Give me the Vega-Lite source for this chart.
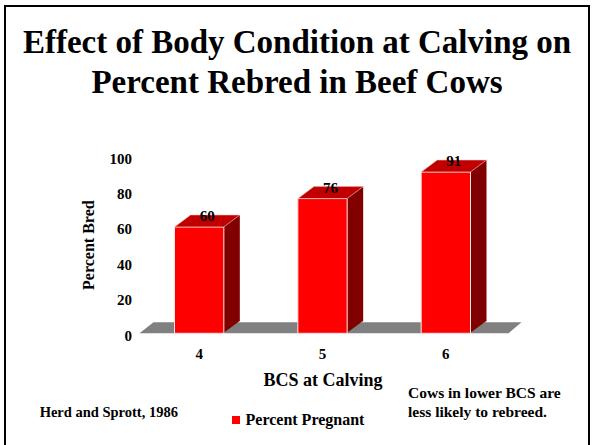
{
  "$schema": "https://vega.github.io/schema/vega-lite/v6.json",
  "width": 584,
  "height": 440,
  "padding": {"left": 5, "top": 6, "right": 4, "bottom": 0},
  "autosize": {"type": "none"},
  "background": "white",
  "config": {
    "view": {"stroke": "#000000", "strokeWidth": 2},
    "font": "Liberation Serif"
  },
  "title": {
    "text": ["Effect of Body Condition at Calving on", "Percent Rebred in Beef Cows"],
    "font": "Liberation Serif",
    "fontSize": 33,
    "fontWeight": "bold",
    "color": "#000000",
    "lineHeight": 40,
    "anchor": "middle",
    "baseline": "top",
    "offset": -94
  },
  "data": {
    "values": [
      {"BCS": "4", "pct": 60, "series": "Percent Pregnant"},
      {"BCS": "5", "pct": 76, "series": "Percent Pregnant"},
      {"BCS": "6", "pct": 91, "series": "Percent Pregnant"}
    ]
  },
  "encoding": {
    "x": {
      "field": "BCS",
      "type": "ordinal",
      "scale": {"range": [132.5, 502.5], "paddingInner": 0.6, "paddingOuter": 0.3},
      "axis": {
        "title": "BCS at Calving",
        "orient": "bottom",
        "offset": -112.7,
        "labelAngle": 0,
        "domain": false,
        "ticks": false,
        "tickSize": 0,
        "grid": false,
        "labelPadding": 13,
        "labelFont": "Liberation Serif",
        "labelFontSize": 15,
        "labelFontWeight": "bold",
        "labelColor": "#000000",
        "titleFont": "Liberation Serif",
        "titleFontSize": 18,
        "titleFontWeight": "bold",
        "titleColor": "#000000",
        "titlePadding": 10
      }
    },
    "y": {
      "field": "pct",
      "type": "quantitative",
      "scale": {"domain": [0, 100], "range": [327.3, 150], "nice": false, "zero": true},
      "axis": {
        "title": "Percent Bred",
        "orient": "left",
        "offset": -132.5,
        "values": [0, 20, 40, 60, 80, 100],
        "domain": false,
        "ticks": false,
        "tickSize": 0,
        "grid": false,
        "labelPadding": 6,
        "labelOffset": 2,
        "labelFont": "Liberation Serif",
        "labelFontSize": 15,
        "labelFontWeight": "bold",
        "labelColor": "#000000",
        "titleFont": "Liberation Serif",
        "titleFontSize": 16,
        "titleFontWeight": "bold",
        "titleColor": "#000000",
        "titlePadding": 13
      }
    }
  },
  "layer": [
    {
      "transform": [{"filter": "datum.BCS == '5'"}],
      "mark": {"type": "point", "shape": "M-183,0L186,0L199,-11L-169,-11Z", "size": 4, "filled": true, "fill": "#808080", "opacity": 1, "strokeWidth": 0},
      "encoding": {"y": {"datum": 0}}
    },
    {
      "mark": {"type": "bar", "color": "#800000", "xOffset": 16, "x2Offset": 16, "yOffset": -12, "y2Offset": -12}
    },
    {
      "mark": {"type": "point", "shape": "M24,-12.5L24,0L40.7,-12.5Z", "size": 4, "filled": true, "fill": "#800000", "opacity": 1, "strokeWidth": 0},
      "encoding": {"y": {"datum": 0}}
    },
    {
      "mark": {"type": "bar", "stroke": "#ffe6e6", "strokeWidth": 1},
      "encoding": {
        "color": {
          "field": "series",
          "type": "nominal",
          "scale": {"range": ["#ff0000"]},
          "legend": {
            "title": null,
            "orient": "none",
            "legendX": 223,
            "legendY": 406,
            "padding": 0,
            "symbolType": "square",
            "symbolSize": 64,
            "symbolStrokeWidth": 0,
            "labelFont": "Liberation Serif",
            "labelFontSize": 16,
            "labelFontWeight": "bold",
            "labelColor": "#000000",
            "labelOffset": 1.5
          }
        }
      }
    },
    {
      "mark": {"type": "point", "shape": "M-24.67,0L24.67,0L40.67,-12L-8.67,-12Z", "size": 4, "filled": true, "fill": "#c00000", "opacity": 1, "stroke": "#ffd0d0", "strokeWidth": 0.6}
    },
    {
      "mark": {"type": "text", "dx": 8, "dy": -6, "baseline": "alphabetic", "align": "center", "font": "Liberation Serif", "fontSize": 15, "fontWeight": "bold", "color": "#000000"},
      "encoding": {"text": {"field": "pct", "type": "quantitative"}}
    },
    {
      "data": {"values": [{"note": "Herd and Sprott, 1986"}]},
      "mark": {"type": "text", "align": "center", "baseline": "alphabetic", "font": "Liberation Serif", "fontSize": 14.5, "fontWeight": "bold", "color": "#000000"},
      "encoding": {"x": {"value": 103.8}, "y": {"value": 411.3}, "text": {"field": "note"}}
    },
    {
      "data": {"values": [{"note": ["Cows in lower BCS are", "less likely to rebreed."]}]},
      "mark": {"type": "text", "align": "left", "baseline": "alphabetic", "font": "Liberation Serif", "fontSize": 15.5, "fontWeight": "bold", "color": "#000000", "lineHeight": 18.4},
      "encoding": {"x": {"value": 403}, "y": {"value": 392.3}, "text": {"field": "note"}}
    }
  ]
}
